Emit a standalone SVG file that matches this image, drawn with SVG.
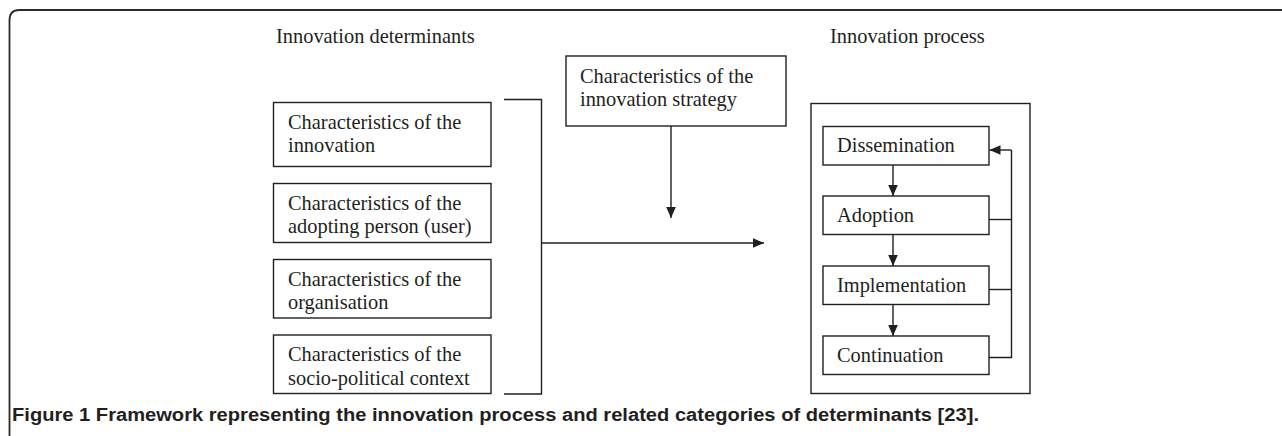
<svg xmlns="http://www.w3.org/2000/svg" width="1282" height="436" viewBox="0 0 1282 436">
<defs>
<marker id="ah" markerUnits="userSpaceOnUse" markerWidth="12" markerHeight="12" viewBox="0 0 12 12" refX="11" refY="6" orient="auto">
<path d="M0,1.2 L11,6 L0,10.8 Z" fill="#231f20"/>
</marker>
<style>
.box{fill:#fff;stroke:#231f20;stroke-width:1.4}
.t{font-family:"Liberation Serif","Times New Roman",serif;font-size:20.4px;fill:#231f20}
.ln{fill:none;stroke:#231f20;stroke-width:1.4}
.arr{fill:none;stroke:#231f20;stroke-width:1.4;marker-end:url(#ah)}
.frame{fill:none;stroke:#2a2a2a;stroke-width:1.8}
.cap{font-family:"Liberation Sans",Arial,sans-serif;font-weight:bold;font-size:17.5px;fill:#231f20}
</style>
</defs>
<rect width="1282" height="436" fill="#fff"/>
<path class="frame" d="M9.5,436 L9.5,20 Q9.5,10 19.5,10 L1282,10"/>

<g id="title-determinants"><text class="t" x="276" y="43">Innovation determinants</text></g>
<g id="title-process"><text class="t" x="830" y="43">Innovation process</text></g>

<g id="node-innovation">
<rect class="box" x="273.5" y="102.5" width="217.5" height="64"/>
<text class="t" x="288" y="128.5">Characteristics of the</text>
<text class="t" x="288" y="152">innovation</text>
</g>
<g id="node-user">
<rect class="box" x="273.5" y="183.5" width="217.5" height="59"/>
<text class="t" x="288" y="209.5">Characteristics of the</text>
<text class="t" x="288" y="233">adopting person (user)</text>
</g>
<g id="node-organisation">
<rect class="box" x="273.5" y="259.5" width="217.5" height="58.5"/>
<text class="t" x="288" y="285.5">Characteristics of the</text>
<text class="t" x="288" y="309">organisation</text>
</g>
<g id="node-context">
<rect class="box" x="273.5" y="335" width="217.5" height="58.5"/>
<text class="t" x="288" y="361">Characteristics of the</text>
<text class="t" x="288" y="384.5">socio-political context</text>
</g>

<g id="node-strategy">
<rect class="box" x="566" y="56" width="220" height="70"/>
<text class="t" x="580" y="83">Characteristics of the</text>
<text class="t" x="580" y="106">innovation strategy</text>
</g>

<g id="node-process">
<rect class="box" x="811" y="103.5" width="219" height="290"/>
</g>
<g id="node-dissemination">
<rect class="box" x="823" y="126.5" width="166" height="38.5"/>
<text class="t" x="837" y="152.3">Dissemination</text>
</g>
<g id="node-adoption">
<rect class="box" x="823" y="196" width="166" height="38.5"/>
<text class="t" x="837" y="221.7">Adoption</text>
</g>
<g id="node-implementation">
<rect class="box" x="823" y="266" width="166" height="38.5"/>
<text class="t" x="837" y="291.7">Implementation</text>
</g>
<g id="node-continuation">
<rect class="box" x="823" y="336" width="166" height="38.5"/>
<text class="t" x="837" y="361.7">Continuation</text>
</g>

<g id="connectors">
<path class="ln" d="M504,99.5 L541.5,99.5 L541.5,394 L504,394"/>
<path class="arr" d="M541.5,243 L764,243"/>
<path class="arr" d="M671,126 L671,218"/>
<path class="arr" d="M893,165 L893,196"/>
<path class="arr" d="M893,234.5 L893,266"/>
<path class="arr" d="M893,304.5 L893,336"/>
<path class="ln" d="M989,219.5 L1011.5,219.5"/>
<path class="ln" d="M989,289.5 L1011.5,289.5"/>
<path class="ln" d="M989,357.5 L1011.5,357.5 L1011.5,150 L1011.5,150"/>
<path class="arr" d="M1011.5,150 L989.5,150"/>
</g>

<g id="caption">
<text class="cap" x="12" y="421" textLength="967" lengthAdjust="spacingAndGlyphs">Figure 1 Framework representing the innovation process and related categories of determinants [23].</text>
</g>
</svg>
